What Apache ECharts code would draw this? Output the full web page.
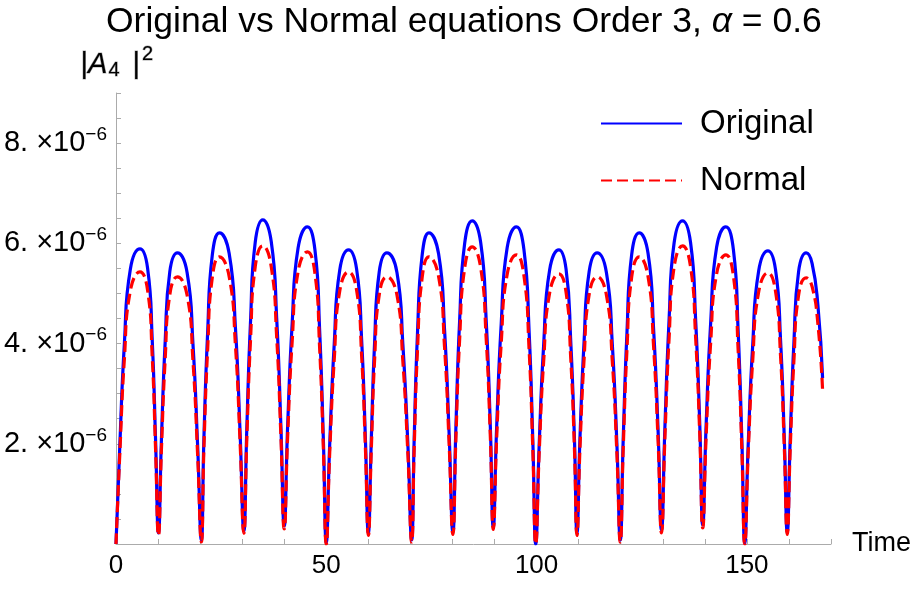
<!DOCTYPE html>
<html>
<head>
<meta charset="utf-8">
<script src="https://cdn.jsdelivr.net/npm/echarts@6/dist/echarts.min.js"></script>
<style>
  html, body { margin: 0; padding: 0; background: #fff; }
  #main { width: 917px; height: 590px; }
</style>
</head>
<body>
<div id="main"></div>
<script>
// time axis (shared by both curves)
var time = [
  0, 0.9, 2.0, 3.4, 5.7, 7.5, 8.6, 9.4,
  10.1, 10.8, 11.7, 12.8, 14.6, 16.9, 18.3, 19.4,
  20.3, 20.9, 21.8, 22.9, 24.6, 26.9, 28.4, 29.5,
  30.4, 31.1, 32.0, 33.1, 34.9, 36.9, 38.2, 39.2,
  40.0, 40.8, 41.9, 43.3, 45.5, 47.3, 48.4, 49.3,
  50.0, 50.8, 51.9, 53.2, 55.3, 57.2, 58.4, 59.3,
  60.0, 60.7, 61.5, 62.6, 64.4, 66.8, 68.2, 69.4,
  70.3, 70.9, 71.7, 72.8, 74.4, 76.7, 78.1, 79.2,
  80.1, 80.8, 81.7, 82.9, 84.7, 86.7, 88.0, 89.0,
  89.7, 90.5, 91.6, 93.0, 95.2, 97.0, 98.2, 99.1,
  99.8, 100.6, 101.7, 103.1, 105.3, 107.0, 108.1, 109.0,
  109.6, 110.3, 111.3, 112.5, 114.4, 116.6, 118.0, 119.1,
  119.9, 120.6, 121.5, 122.6, 124.4, 126.5, 127.8, 128.9,
  129.7, 130.5, 131.5, 132.7, 134.7, 136.6, 137.8, 138.8,
  139.5, 140.3, 141.4, 142.8, 145.0, 146.8, 147.9, 148.8,
  149.5, 150.3, 151.4, 152.8, 155.0, 156.8, 158.0, 158.9,
  159.6, 160.3, 161.2, 162.3, 164.1, 165.5, 166.9, 168.0
];
// |A4|^2, in units of 10^-6
var original = [
  0, 1.95, 4.01, 5.48, 5.89, 5.51, 4.10, 2.10,
  0.22, 2.08, 4.05, 5.44, 5.81, 5.42, 3.99, 1.98,
  0.08, 2.10, 4.24, 5.77, 6.21, 5.80, 4.31, 2.23,
  0.26, 2.30, 4.47, 6.02, 6.47, 6.04, 4.51, 2.37,
  0.36, 2.33, 4.42, 5.91, 6.33, 5.87, 4.30, 2.10,
  0.03, 1.96, 4.01, 5.47, 5.87, 5.49, 4.08, 2.10,
  0.22, 2.08, 4.05, 5.44, 5.81, 5.42, 3.99, 1.98,
  0.08, 2.10, 4.24, 5.77, 6.21, 5.79, 4.30, 2.21,
  0.24, 2.28, 4.45, 6.00, 6.45, 6.02, 4.49, 2.35,
  0.34, 2.32, 4.41, 5.91, 6.33, 5.87, 4.28, 2.08,
  0.00, 1.94, 4.00, 5.47, 5.87, 5.49, 4.08, 2.10,
  0.22, 2.08, 4.05, 5.44, 5.81, 5.42, 3.99, 1.98,
  0.08, 2.10, 4.24, 5.77, 6.21, 5.80, 4.32, 2.24,
  0.28, 2.31, 4.47, 6.01, 6.45, 6.02, 4.50, 2.38,
  0.38, 2.35, 4.43, 5.92, 6.33, 5.87, 4.29, 2.09,
  0.02, 1.95, 3.99, 5.45, 5.85, 5.48, 4.08, 2.10,
  0.24, 2.09, 4.05, 5.44, 5.81, 5.60, 4.75, 3.31
];
var normal = [
  0, 1.79, 3.70, 5.05, 5.43, 5.07, 3.76, 1.91,
  0.17, 1.88, 3.70, 4.98, 5.33, 4.97, 3.65, 1.79,
  0.04, 1.91, 3.90, 5.32, 5.73, 5.34, 3.96, 2.03,
  0.21, 2.09, 4.10, 5.53, 5.95, 5.54, 4.13, 2.16,
  0.30, 2.12, 4.06, 5.44, 5.83, 5.40, 3.94, 1.91,
  0.00, 1.79, 3.70, 5.05, 5.43, 5.07, 3.76, 1.91,
  0.17, 1.88, 3.70, 4.98, 5.33, 4.97, 3.65, 1.79,
  0.04, 1.91, 3.90, 5.32, 5.73, 5.34, 3.95, 2.01,
  0.19, 2.07, 4.08, 5.51, 5.93, 5.52, 4.12, 2.14,
  0.29, 2.09, 4.02, 5.38, 5.77, 5.35, 3.91, 1.89,
  0.00, 1.78, 3.67, 5.01, 5.39, 5.03, 3.74, 1.90,
  0.17, 1.88, 3.70, 4.98, 5.33, 4.97, 3.65, 1.79,
  0.04, 1.91, 3.90, 5.32, 5.73, 5.34, 3.97, 2.03,
  0.22, 2.10, 4.10, 5.53, 5.95, 5.54, 4.14, 2.17,
  0.32, 2.12, 4.03, 5.39, 5.77, 5.35, 3.91, 1.89,
  0.00, 1.78, 3.68, 5.03, 5.41, 5.05, 3.76, 1.92,
  0.19, 1.89, 3.69, 4.97, 5.31, 5.14, 4.38, 3.07
];
var xTicks = [0, 50, 100, 150];
var yTicks = [2, 4, 6, 8]; // x 10^-6

var font = '"Liberation Sans", Arial, sans-serif';
var axisGray = '#ababab';

var chart = echarts.init(document.getElementById('main'));

var option = {
  backgroundColor: '#fff',
  animation: false,
  title: {
    text: '{n|Original vs Normal equations Order 3, }{i|α}{n| = 0.6}',
    left: 106,
    top: 0,
    padding: [4, 0, 0, 0],
    textStyle: {
      rich: {
        n: { fontSize: 35.5, fontFamily: font, fontWeight: 'normal', color: '#000' },
        i: { fontSize: 35.5, fontFamily: font, fontWeight: 'normal', fontStyle: 'italic', color: '#000' }
      }
    }
  },
  legend: {
    data: ['Original', 'Normal'],
    orient: 'vertical',
    left: 600,
    top: 107,
    padding: 0,
    itemWidth: 81,
    itemHeight: 14,
    itemGap: 24,
    itemStyle: { opacity: 0 },
    textStyle: { fontSize: 33, fontFamily: font, color: '#000', padding: [0, 0, 0, 13] }
  },
  grid: { left: 116, right: 86, top: 93, bottom: 46 },
  xAxis: {
    type: 'value',
    min: 0,
    max: 170,
    interval: 10,
    name: 'Time',
    nameLocation: 'end',
    nameGap: 21,
    nameTextStyle: { fontSize: 27, fontFamily: font, color: '#000', verticalAlign: 'middle' },
    axisLine: { lineStyle: { color: axisGray, width: 1 } },
    axisTick: { inside: true, length: 5, lineStyle: { color: axisGray } },
    splitLine: { show: false },
    axisLabel: {
      margin: 9,
      fontSize: 26,
      fontFamily: font,
      color: '#000',
      formatter: function (v) { return xTicks.indexOf(v) >= 0 ? String(v) : ''; }
    }
  },
  yAxis: {
    type: 'value',
    min: 0,
    max: 9,
    interval: 0.5,
    axisLine: { show: true, lineStyle: { color: axisGray, width: 1 } },
    axisTick: { show: true, inside: true, length: 5, lineStyle: { color: axisGray } },
    splitLine: { show: false },
    axisLabel: {
      margin: 9,
      formatter: function (v) {
        return yTicks.indexOf(v) >= 0 ? '{m|' + v + '. ×10}{e|−6}' : '';
      },
      rich: {
        m: { fontSize: 29, fontFamily: font, color: '#000' },
        e: { fontSize: 19, fontFamily: font, color: '#000', padding: [0, 0, 17, 0] }
      }
    }
  },
  graphic: [{
    type: 'text',
    left: 80,
    top: 44,
    style: {
      text: '{n||}{a|A}{b|4}{n| |}{c|2}',
      rich: {
        n: { fontSize: 29, fontFamily: font, fill: '#000' },
        a: { fontSize: 29, fontFamily: font, fontStyle: 'italic', fill: '#000' },
        b: { fontSize: 20, fontFamily: font, fill: '#000', padding: [12, 5, 0, 1] },
        c: { fontSize: 20, fontFamily: font, fill: '#000', padding: [0, 0, 20, 2] }
      }
    }
  }],
  series: [
    {
      name: 'Original',
      type: 'line',
      data: time.map(function (t, i) { return [t, original[i]]; }),
      smooth: 0.5,
      symbol: 'none',
      lineStyle: { color: '#0000ff', width: 3.2 },
      itemStyle: { color: '#0000ff' }
    },
    {
      name: 'Normal',
      type: 'line',
      data: time.map(function (t, i) { return [t, normal[i]]; }),
      smooth: 0.5,
      symbol: 'none',
      lineStyle: { color: '#ff0000', width: 3.2, type: [11, 5] },
      itemStyle: { color: '#ff0000' }
    }
  ]
};

chart.setOption(option);

// short stub of the time axis to the left of the origin
var o = chart.convertToPixel({ gridIndex: 0 }, [0, 0]);
chart.setOption({
  graphic: [{
    type: 'line',
    shape: { x1: o[0] - 14, y1: o[1], x2: o[0], y2: o[1] },
    style: { stroke: axisGray, lineWidth: 1 }
  }]
});
</script>
</body>
</html>
